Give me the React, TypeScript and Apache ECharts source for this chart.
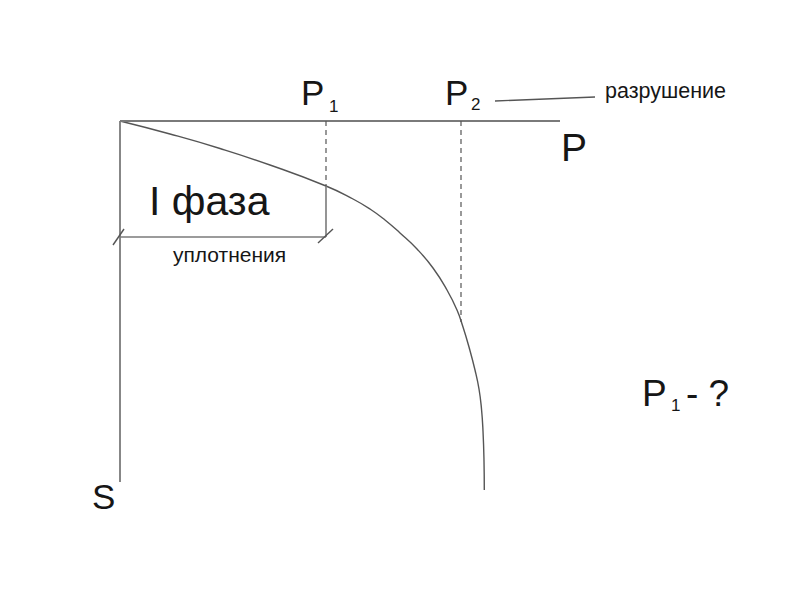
import React, { useEffect, useRef } from "react";
import * as echarts from "echarts";

// Settlement curve S(P) (load P along the top axis, settlement S downward)
const loadP = [0, 50, 100, 150, 206, 233, 250, 265, 280, 297, 313, 327, 337, 343, 349, 355, 359, 361.5, 363, 364, 364.3];
const settlementS = [0, 13, 27.5, 44, 65, 78, 88, 99, 112, 128, 147, 169, 189, 206, 226, 249, 268, 288, 310, 340, 369];

// Axis extents
const pAxisMax = 440;
const sAxisMax = 361;

// Characteristic loads and their settlements
const P1 = 206;
const S_P1 = 65;
const P2 = 341;
const S_P2 = 201;
const phaseBracketS = 116;

const FONT = "Liberation Sans, Arial, sans-serif";

export default function App() {
  const ref = useRef<HTMLDivElement>(null);

  useEffect(() => {
    if (!ref.current) return;
    const chart = echarts.init(ref.current, undefined, { renderer: "svg" });

    const axisColor = "#7a7a7a";
    const lineColor = "#555555";
    const seg = (data: number[][], style: any) => ({
      type: "line",
      data,
      showSymbol: false,
      symbol: "none",
      silent: true,
      lineStyle: style,
    });

    const txt = (text: string, x: number, y: number, size: number, color = "#161616") => ({
      type: "text",
      x,
      y,
      silent: true,
      style: {
        text,
        fontSize: size,
        fontFamily: FONT,
        fill: color,
        align: "left",
        verticalAlign: "middle",
      },
    });

    chart.setOption({
      animation: false,
      backgroundColor: "#ffffff",
      grid: { left: 0, top: 0, right: 0, bottom: 0 },
      xAxis: { type: "value", min: -120, max: 680, show: false },
      yAxis: { type: "value", min: -121, max: 479, inverse: true, show: false },
      series: [
        {
          ...seg(loadP.map((p, i) => [p, settlementS[i]]), { color: lineColor, width: 1.4 }),
          smooth: 0.5,
        },
        seg([[0, 0], [pAxisMax, 0]], { color: axisColor, width: 1.8 }),
        seg([[0, 0], [0, sAxisMax]], { color: axisColor, width: 1.8 }),
        seg([[P1, 0], [P1, S_P1]], { color: lineColor, width: 1.2, type: [5, 4] }),
        seg([[P2, 0], [P2, S_P2]], { color: lineColor, width: 1.2, type: [5, 4] }),
        seg([[P1, S_P1], [P1, phaseBracketS]], { color: axisColor, width: 1.6 }),
        seg([[0, phaseBracketS], [P1, phaseBracketS]], { color: axisColor, width: 1.6 }),
        seg([[-7, phaseBracketS + 8], [4, phaseBracketS - 8]], { color: lineColor, width: 1.4 }),
        seg([[P1 - 8, phaseBracketS + 6], [P1 + 7, phaseBracketS - 8]], { color: lineColor, width: 1.4 }),
        seg([[375, -20], [475, -24]], { color: lineColor, width: 1.4 }),
      ],
      graphic: [
        txt("P", 301, 92, 35),
        txt("1", 329, 106, 17),
        txt("P", 445, 92, 35),
        txt("2", 471, 104, 17),
        txt("разрушение", 605, 91, 21.5),
        txt("P", 561, 147, 39),
        txt("S", 92, 496, 35),
        txt("I фаза", 149, 201, 41),
        txt("уплотнения", 173, 254, 21),
        txt("P", 642, 393, 37),
        txt("1", 671, 405, 17),
        txt("- ?", 686, 393, 37),
      ],
    });

    return () => chart.dispose();
  }, []);

  return (
    <div
      ref={ref}
      style={{ position: "fixed", left: 0, top: 0, width: 800, height: 600, background: "#fff" }}
    />
  );
}
